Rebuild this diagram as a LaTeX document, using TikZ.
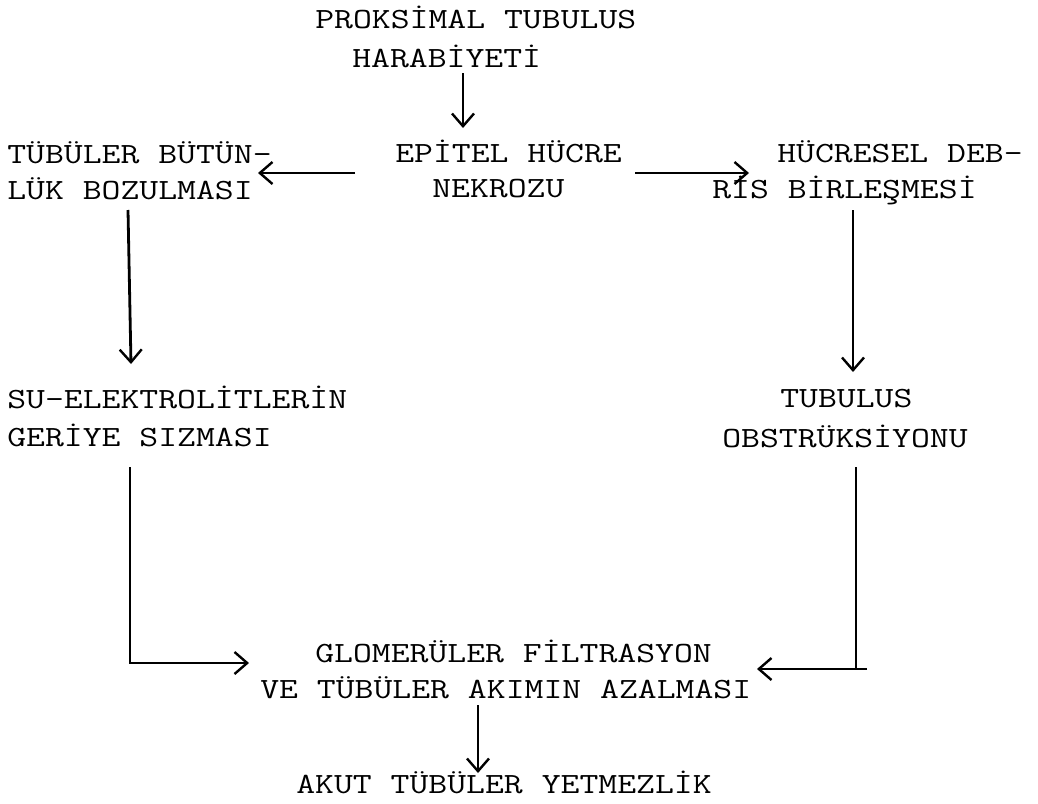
\documentclass[tikz,border=0pt]{standalone}
\usepackage{fontspec}
\usetikzlibrary{arrows.meta}
% wide typewriter lettering
\newcommand\twtext[1]{\scalebox{1.25}[1]{#1}}
\begin{document}
\begin{tikzpicture}[x=0.75pt,y=-0.75pt,
  lbl/.style={anchor=base west, inner sep=0pt,
    font=\ttfamily\fontsize{22}{27}\selectfont},
  seg/.style={line width=2.1pt},
  arr/.style={seg, -{Straight Barb[length=9.5pt,width=16.5pt,line width=1.8pt]}}]
\useasboundingbox (0,0) rectangle (1038,803);

% text lines
\node[lbl] (p1) at (315,28)  {\twtext{PROKSİMAL TUBULUS}};
\node[lbl] (p2) at (352,67)  {\twtext{HARABİYETİ}};
\node[lbl] (e1) at (395,162) {\twtext{EPİTEL HÜCRE}};
\node[lbl] (e2) at (432,197) {\twtext{NEKROZU}};
\node[lbl] (t1) at (7,163)   {\twtext{TÜBÜLER BÜTÜN-}};
\node[lbl] (t2) at (7,199)   {\twtext{LÜK BOZULMASI}};
\node[lbl] (h1) at (777,162) {\twtext{HÜCRESEL DEB-}};
\node[lbl] (h2) at (712,198) {\twtext{RİS BİRLEŞMESİ}};
\node[lbl] (s1) at (7,408)   {\twtext{SU-ELEKTROLİTLERİN}};
\node[lbl] (s2) at (7,446)   {\twtext{GERİYE SIZMASI}};
\node[lbl] (o1) at (780,407) {\twtext{TUBULUS}};
\node[lbl] (o2) at (722,447) {\twtext{OBSTRÜKSİYONU}};
\node[lbl] (g1) at (315,662) {\twtext{GLOMERÜLER FİLTRASYON}};
\node[lbl] (g2) at (260,698) {\twtext{VE TÜBÜLER AKIMIN AZALMASI}};
\node[lbl] (a1) at (296,793) {\twtext{AKUT TÜBÜLER YETMEZLİK}};

% connector end points
\coordinate (c1a) at (463,73);  \coordinate (c1b) at (463,128);
\coordinate (c2a) at (355,173); \coordinate (c2b) at (258,173);
\coordinate (c3a) at (635,173); \coordinate (c3b) at (749,173);
\coordinate (c4a) at (128,210); \coordinate (c4b) at (131,364);
\coordinate (c5a) at (853,210); \coordinate (c5b) at (853,372);
\coordinate (c6a) at (130,467); \coordinate (c6b) at (249,663);
\coordinate (c7a) at (856,467); \coordinate (c7e) at (867,669);
\coordinate (c7b) at (757,669);
\coordinate (c8a) at (478,705); \coordinate (c8b) at (478,773);

% connectors
\draw[arr] (c1a) -- (c1b);
\draw[arr] (c2a) -- (c2b);
\draw[arr] (c3a) -- (c3b);
\draw[arr] (c4a) -- (c4b);
\draw[arr] (c5a) -- (c5b);
\draw[arr] (c6a) |- (c6b);
\draw[seg] (c7a) -- (c7a |- c7b);
\draw[arr] (c7e) -- (c7b);
\draw[arr] (c8a) -- (c8b);
\end{tikzpicture}
\end{document}
